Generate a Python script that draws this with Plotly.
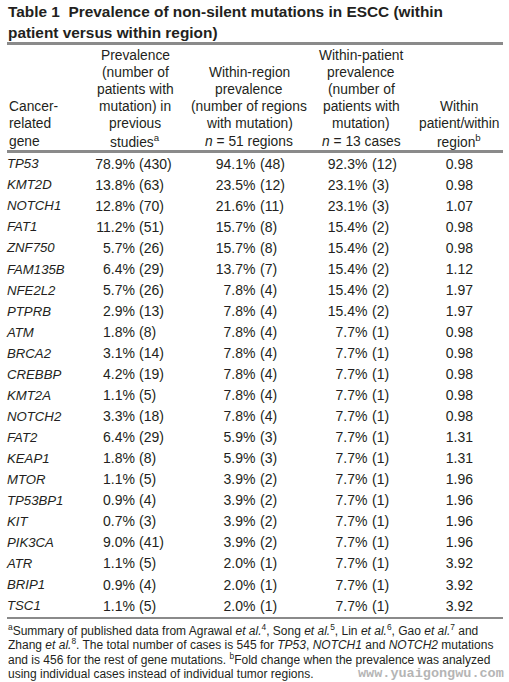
import plotly.graph_objects as go

# ---------------- data ----------------
genes = ["TP53", "KMT2D", "NOTCH1", "FAT1", "ZNF750", "FAM135B", "NFE2L2", "PTPRB",
         "ATM", "BRCA2", "CREBBP", "KMT2A", "NOTCH2", "FAT2", "KEAP1", "MTOR",
         "TP53BP1", "KIT", "PIK3CA", "ATR", "BRIP1", "TSC1"]
prev_pct = ["78.9%", "13.8%", "12.8%", "11.2%", "5.7%", "6.4%", "5.7%", "2.9%",
            "1.8%", "3.1%", "4.2%", "1.1%", "3.3%", "6.4%", "1.8%", "1.1%",
            "0.9%", "0.7%", "9.0%", "1.1%", "0.9%", "1.1%"]
prev_n = [430, 63, 70, 51, 26, 29, 26, 13, 8, 14, 19, 5, 18, 29, 8, 5, 4, 3, 41, 5, 4, 5]
region_pct = ["94.1%", "23.5%", "21.6%", "15.7%", "15.7%", "13.7%", "7.8%", "7.8%",
              "7.8%", "7.8%", "7.8%", "7.8%", "7.8%", "5.9%", "5.9%", "3.9%",
              "3.9%", "3.9%", "3.9%", "2.0%", "2.0%", "2.0%"]
region_n = [48, 12, 11, 8, 8, 7, 4, 4, 4, 4, 4, 4, 4, 3, 3, 2, 2, 2, 2, 1, 1, 1]
patient_pct = ["92.3%", "23.1%", "23.1%", "15.4%", "15.4%", "15.4%", "15.4%", "15.4%",
               "7.7%", "7.7%", "7.7%", "7.7%", "7.7%", "7.7%", "7.7%", "7.7%",
               "7.7%", "7.7%", "7.7%", "7.7%", "7.7%", "7.7%"]
patient_n = [12, 3, 3, 2, 2, 2, 2, 2, 1, 1, 1, 1, 1, 1, 1, 1, 1, 1, 1, 1, 1, 1]
ratio = ["0.98", "0.98", "1.07", "0.98", "0.98", "1.12", "1.97", "1.97", "0.98", "0.98",
         "0.98", "0.98", "0.98", "1.31", "1.31", "1.96", "1.96", "1.96", "1.96", "3.92",
         "3.92", "3.92"]

title_lines = ["Table 1  Prevalence of non-silent mutations in ESCC (within",
               "patient versus within region)"]
header_cols = [
    ["Cancer-", "related", "gene"],
    ["Prevalence", "(number of", "patients with", "mutation) in", "previous", "studies<sup>a</sup>"],
    ["Within-region", "prevalence", "(number of regions", "with mutation)", "<i>n</i> = 51 regions"],
    ["Within-patient", "prevalence", "(number of", "patients with", "mutation)", "<i>n</i> = 13 cases"],
    ["Within", "patient/within", "region<sup>b</sup>"],
]
footnotes = [
    "<sup>a</sup>Summary of published data from Agrawal <i>et al.</i><sup>4</sup>, Song <i>et al.</i><sup>5</sup>, Lin <i>et al.</i><sup>6</sup>, Gao <i>et al.</i><sup>7</sup> and",
    "Zhang <i>et al.</i><sup>8</sup>. The total number of cases is 545 for <i>TP53</i>, <i>NOTCH1</i> and <i>NOTCH2</i> mutations",
    "and is 456 for the rest of gene mutations. <sup>b</sup>Fold change when the prevalence was analyzed",
    "using individual cases instead of individual tumor regions.",
]
watermark = "www.yuaigongwu.com"

# ---------------- layout ----------------
W, H = 509, 682
FONT = "Liberation Sans, Arial, sans-serif"
TXT = "#231f20"
RULE = "#8a8a8a"
row0, rowstep = 165, 21.05
ys = [row0 + i * rowstep for i in range(len(genes))]

fig = go.Figure()

def col_text(x, text, pos, size=14, italic=False):
    fig.add_trace(go.Scatter(
        x=[x] * len(text), y=ys, mode="text",
        text=[f"<i>{t}</i>" if italic else t for t in text],
        textposition=pos, textfont=dict(family=FONT, size=size, color=TXT),
        hoverinfo="skip", showlegend=False))

col_text(7, genes, "middle right", size=13.2, italic=True)
col_text(135, prev_pct, "middle left")
col_text(139, [f"({n})" for n in prev_n], "middle right")
col_text(255.5, region_pct, "middle left")
col_text(260, [f"({n})" for n in region_n], "middle right")
col_text(367.5, patient_pct, "middle left")
col_text(372, [f"({n})" for n in patient_n], "middle right")
col_text(473, ratio, "middle left")

ann = []
# title
for i, t in enumerate(title_lines):
    ann.append(dict(x=6, y=11.5 + i * 20.5, text=f"<b>{t}</b>", xanchor="left", yanchor="middle",
                    showarrow=False, font=dict(family=FONT, size=15.4, color=TXT)))
# header
col_x = [(7, "left"), (135, "center"), (249, "center"), (361, "center"), (459, "center")]
for (x, anc), lines in zip(col_x, header_cols):
    n = len(lines)
    for j, t in enumerate(lines):
        ann.append(dict(x=x, y=141 - (n - 1 - j) * 17.2, text=t, xanchor=anc, yanchor="middle",
                        showarrow=False, font=dict(family=FONT, size=13.8, color=TXT)))
# footnotes
for i, t in enumerate(footnotes):
    ann.append(dict(x=6, y=629.5 + i * 14.8, text=t, xanchor="left", yanchor="middle",
                    showarrow=False, font=dict(family=FONT, size=12, color=TXT)))
ann.append(dict(x=506, y=673, text=f"<b>{watermark}</b>", xanchor="right", yanchor="middle",
                showarrow=False, font=dict(family="Liberation Mono, monospace", size=13.5, color="#b5b5b5")))

shapes = [dict(type="line", x0=7, x1=503, y0=y, y1=y, line=dict(color=RULE, width=w))
          for y, w in [(43.5, 3), (151.5, 3), (618, 2)]]

fig.update_layout(
    width=W, height=H, margin=dict(l=0, r=0, t=0, b=0),
    paper_bgcolor="white", plot_bgcolor="white",
    xaxis=dict(range=[0, W], visible=False, fixedrange=True),
    yaxis=dict(range=[H, 0], visible=False, fixedrange=True),
    annotations=ann, shapes=shapes,
)
fig.write_html("out.html", config={"displayModeBar": False},
               post_script="document.body.style.margin='0';document.body.style.overflow='hidden';")
